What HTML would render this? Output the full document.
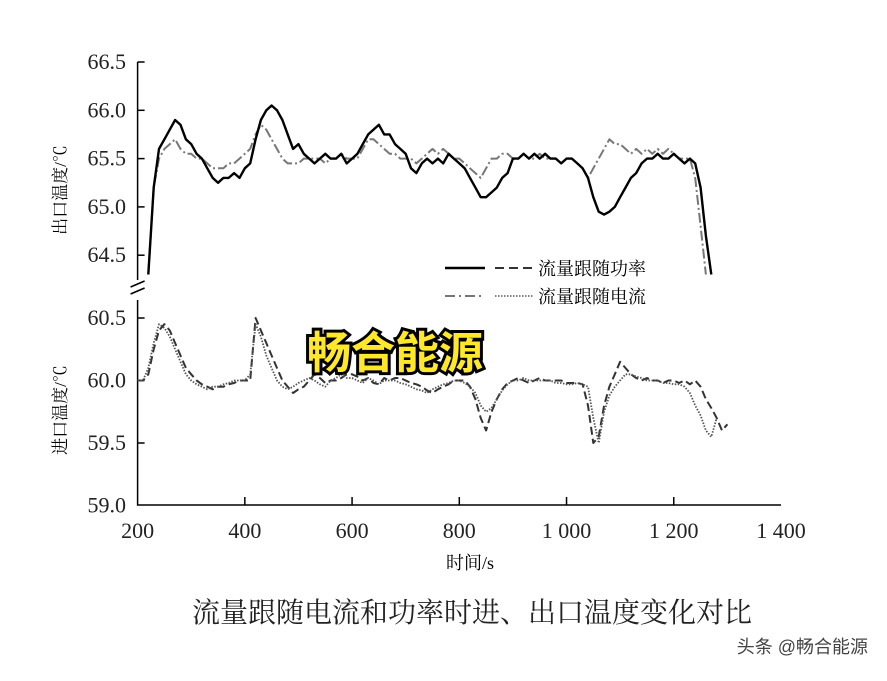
<!DOCTYPE html>
<html><head><meta charset="utf-8"><style>
body{margin:0;background:#fff;}
svg text{font-family:"Liberation Serif","Noto Serif CJK SC",serif;}
</style></head><body>
<svg width="887" height="676" xmlns="http://www.w3.org/2000/svg">
<g id="axes" stroke="#000" stroke-width="1.5" fill="none"></g>
<g id="ticklabels" font-size="22" fill="#222"></g>
<g id="series"></g>
<text x="66" y="190" font-size="17" text-anchor="middle" transform="rotate(-90 66 190)">出口温度/℃</text>
<text x="66" y="410" font-size="17" text-anchor="middle" transform="rotate(-90 66 410)">进口温度/℃</text>
<text x="470" y="569" font-size="18" text-anchor="middle">时间/s</text>
<g font-size="18">
<line x1="445" y1="268" x2="485" y2="268" stroke="#000" stroke-width="2.5"/>
<line x1="495" y1="268" x2="533" y2="268" stroke="#333" stroke-width="2" stroke-dasharray="9,5"/>
<text x="538" y="275">流量跟随功率</text>
<line x1="445" y1="296" x2="485" y2="296" stroke="#777" stroke-width="2" stroke-dasharray="10,4,2,4"/>
<line x1="495" y1="296" x2="533" y2="296" stroke="#555" stroke-width="1.6" stroke-dasharray="1.5,1.5"/>
<text x="538" y="303">流量跟随电流</text>
</g>
<text x="395" y="368" font-size="44" font-weight="bold" text-anchor="middle" fill="#ffe82a" stroke="#000" stroke-width="6" paint-order="stroke" style="font-family:'Noto Sans CJK SC',sans-serif">畅合能源</text>
<text x="472" y="622" font-size="28" text-anchor="middle" fill="#222">流量跟随电流和功率时进、出口温度变化对比</text>
<text x="868" y="653" font-size="18" text-anchor="end" fill="#444" style="font-family:'Liberation Sans','Noto Sans CJK SC',sans-serif">头条 @畅合能源</text>
</svg>
<script>
const xTicks=[200,400,600,800,1000,1200,1400];
const xTickLabels=["200","400","600","800","1 000","1 200","1 400"];
const upperTicks=[66.5,66.0,65.5,65.0,64.5];
const upperTickLabels=["66.5","66.0","65.5","65.0","64.5"];
const lowerTicks=[60.5,60.0,59.5,59.0];
const lowerTickLabels=["60.5","60.0","59.5","59.0"];
const upperStart=220, lowerStart=200, step=10;
const upperPower=[64.3,65.2,65.6,65.7,65.8,65.9,65.85,65.7,65.65,65.55,65.5,65.4,65.3,65.25,65.3,65.3,65.35,65.3,65.4,65.45,65.7,65.9,66.0,66.05,66.0,65.9,65.75,65.6,65.65,65.55,65.5,65.45,65.5,65.55,65.5,65.5,65.55,65.45,65.5,65.55,65.65,65.75,65.8,65.85,65.75,65.75,65.65,65.6,65.55,65.4,65.35,65.45,65.5,65.45,65.5,65.45,65.55,65.5,65.45,65.4,65.3,65.2,65.1,65.1,65.15,65.2,65.3,65.35,65.5,65.5,65.55,65.5,65.55,65.5,65.55,65.5,65.5,65.45,65.5,65.5,65.45,65.4,65.3,65.1,64.95,64.92,64.95,65.0,65.1,65.2,65.3,65.35,65.45,65.5,65.5,65.55,65.5,65.5,65.55,65.5,65.45,65.5,65.45,65.2,64.7,64.3];
const upperCurrent=[64.3,65.2,65.5,65.6,65.65,65.7,65.6,65.55,65.55,65.5,65.5,65.45,65.4,65.4,65.4,65.45,65.45,65.5,65.55,65.6,65.75,65.85,65.8,65.7,65.6,65.5,65.45,65.45,65.45,65.5,65.5,65.5,65.5,65.45,65.5,65.5,65.55,65.5,65.5,65.5,65.6,65.7,65.7,65.65,65.6,65.55,65.55,65.5,65.5,65.5,65.45,65.5,65.55,65.6,65.55,65.6,65.55,65.5,65.5,65.45,65.4,65.35,65.3,65.4,65.5,65.5,65.55,65.55,65.5,65.5,65.55,65.5,65.5,65.55,65.5,65.5,65.5,65.45,65.5,65.5,65.45,65.4,65.3,65.4,65.5,65.6,65.7,65.65,65.65,65.6,65.55,65.6,65.55,65.6,65.55,65.6,65.55,65.6,65.55,65.5,65.5,65.5,65.3,64.8,64.3];
const lowerPower=[60.0,60.0,60.05,60.25,60.4,60.45,60.4,60.3,60.2,60.1,60.05,60.0,59.97,59.95,59.93,59.95,59.95,59.97,59.98,60.0,60.0,60.0,60.5,60.4,60.3,60.2,60.1,60.0,59.95,59.9,59.93,59.95,60.0,60.05,60.02,59.98,60.0,60.0,60.02,60.05,60.05,60.03,60.0,60.02,59.98,59.97,60.02,60.0,60.02,60.02,60.0,59.98,59.97,59.95,59.92,59.9,59.93,59.95,59.97,60.0,60.0,60.0,59.95,59.85,59.7,59.6,59.75,59.85,59.93,59.98,60.0,60.02,60.0,59.98,60.0,60.02,60.0,60.0,60.0,60.0,59.98,59.98,59.98,59.97,59.8,59.5,59.55,59.8,59.95,60.05,60.15,60.1,60.05,60.02,60.0,60.02,60.0,60.0,59.98,60.0,60.0,59.98,60.0,59.97,60.0,59.95,59.85,59.78,59.7,59.6,59.65];
const lowerCurrent=[60.0,60.0,60.1,60.3,60.45,60.42,60.35,60.25,60.15,60.05,60.0,59.97,59.95,59.93,59.95,59.95,59.97,59.98,60.0,60.0,60.0,60.05,60.45,60.35,60.2,60.1,60.0,59.95,59.93,59.95,59.98,60.0,60.02,60.0,59.97,59.95,60.0,60.02,60.05,60.02,60.02,60.0,59.98,60.02,60.0,59.97,60.0,60.0,60.0,59.98,59.97,59.95,59.93,59.92,59.9,59.93,59.95,59.97,59.98,60.0,60.0,59.98,59.95,59.9,59.8,59.75,59.78,59.85,59.92,59.97,60.0,60.0,60.02,60.0,60.0,60.0,60.0,60.0,59.98,59.98,59.97,59.97,59.98,59.97,59.95,59.7,59.5,59.75,59.88,59.95,60.0,60.05,60.05,60.03,60.02,60.0,60.0,60.0,59.98,59.98,59.97,59.97,59.95,59.9,59.8,59.72,59.6,59.55,59.7];
const NS="http://www.w3.org/2000/svg";
const xL=137.6,xR=781;
function xs(t){return xL+(t-200)*(xR-xL)/1200;}
function yU(v){return 62+(66.5-v)*96.6;}
function yLo(v){return 318+(60.5-v)*125;}
function mk(tag,attrs,parent){const e=document.createElementNS(NS,tag);for(const k in attrs)e.setAttribute(k,attrs[k]);parent.appendChild(e);return e;}
const axes=document.getElementById('axes'),tl=document.getElementById('ticklabels'),ser=document.getElementById('series');
let a=mk('path',{d:`M${xL},${yU(66.5)}V280 M${xL},300V505H${xR}`},axes);


let br=mk('path',{d:`M${xL-7},287 L${xL+7},281 M${xL-7},294 L${xL+7},288`},axes);


xTicks.forEach((t,i)=>{
 if(i>0&&i<xTicks.length-1){mk('line',{x1:xs(t),x2:xs(t),y1:505,y2:497},axes);}
 const tx=mk('text',{x:xs(t),y:538,'text-anchor':'middle'},tl);tx.textContent=xTickLabels[i];
 
 
});
upperTicks.forEach((v,i)=>{
 mk('line',{x1:xL,x2:xL+7,y1:yU(v),y2:yU(v)},axes);
 const tx=mk('text',{x:126,y:yU(v)+7,'text-anchor':'end'},tl);tx.textContent=upperTickLabels[i];
 
 
});
lowerTicks.forEach((v,i)=>{
 if(v>59.0)mk('line',{x1:xL,x2:xL+7,y1:yLo(v),y2:yLo(v)},axes);
 const tx=mk('text',{x:126,y:yLo(v)+7,'text-anchor':'end'},tl);tx.textContent=lowerTickLabels[i];
 
 
});
function line(arr,start,yf,style,name){
 const d=arr.map((v,i)=>(i?'L':'M')+xs(start+i*step).toFixed(1)+','+yf(v).toFixed(1)).join('');
 const p=mk('path',Object.assign({d:d,fill:'none','stroke-linejoin':'round'},style),ser);
 
 
}
line(upperCurrent,upperStart,yU,{stroke:'#777','stroke-width':2,'stroke-dasharray':'10,3,2,3'},'upper-current-line');
line(upperPower,upperStart,yU,{stroke:'#000','stroke-width':2.4},'upper-power-line');
line(lowerPower,lowerStart,yLo,{stroke:'#333','stroke-width':2,'stroke-dasharray':'8,4'},'lower-power-line');
line(lowerCurrent,lowerStart,yLo,{stroke:'#555','stroke-width':1.8,'stroke-dasharray':'1.5,1.5'},'lower-current-line');
</script>
</body></html>
